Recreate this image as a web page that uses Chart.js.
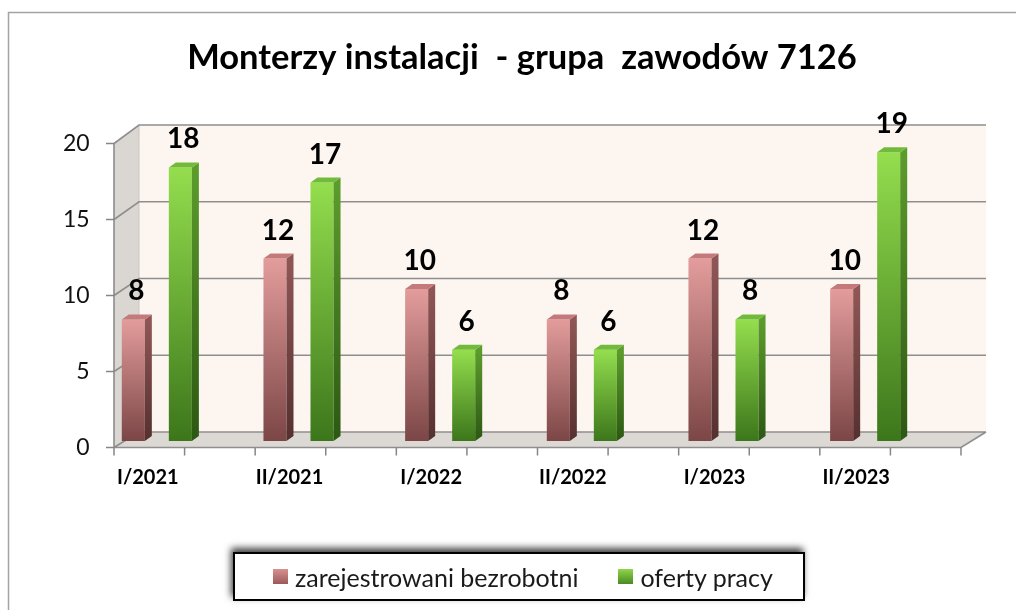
<!DOCTYPE html>
<html><head><meta charset="utf-8">
<script src="https://cdn.jsdelivr.net/npm/chart.js@4"></script>
<style>
html,body{margin:0;padding:0;background:#fff}
#wrap{position:relative;width:1016px;height:610px;overflow:hidden}
#legend{position:absolute;left:233px;top:552px;width:530px;height:45px;border:2px solid #000;background:#fff;
  box-shadow:-2px -4px 7px rgba(0,0,0,0.75);display:flex;align-items:center;justify-content:flex-start;gap:40px;
  padding-left:38px;
  font-family:Lato,'Open Sans',sans-serif;font-size:25px;color:#1a1a1a;box-sizing:content-box}
#legend .it{display:flex;align-items:center}
#legend .sw{width:15px;height:15px;margin-right:7px}
</style>
</head><body><div id="wrap"><canvas id="c" width="1016" height="610"></canvas><div id="legend"></div></div>
<script>
const chartTitle = 'Monterzy instalacji  - grupa  zawodów 7126';
const categories = ['I/2021', 'II/2021', 'I/2022', 'II/2022', 'I/2023', 'II/2023'];
const seriesNames = ['zarejestrowani bezrobotni', 'oferty pracy'];
const registered = [8, 12, 10, 8, 12, 10];
const offers = [18, 17, 6, 6, 8, 19];
const yTicks = [0, 5, 10, 15, 20];

const palette = [
  {front: ['#e39c9c', '#7c4646'], side: ['#905656', '#55302f'], top: '#c47a7a', swatch: 'linear-gradient(#d89090,#9a5a5a)'},
  {front: ['#94de4e', '#3c761b'], side: ['#5c9c2c', '#2c5812'], top: '#72bb3a', swatch: 'linear-gradient(#8fd64a,#4a8a22)'}
];

function frontGradient(c, pi) {
  const chart = c.chart;
  if (!chart.chartArea || c.dataIndex === undefined) return palette[pi].front[1];
  const v = chart.data.datasets[c.datasetIndex].data[c.dataIndex];
  const ys = chart.scales.y;
  const g = chart.ctx.createLinearGradient(0, ys.getPixelForValue(v), 0, ys.getPixelForValue(0));
  g.addColorStop(0, palette[pi].front[0]);
  g.addColorStop(1, palette[pi].front[1]);
  return g;
}

const DX = 25, FRONT_OFF = 6.5;
function frontY(ys, v) { return ys.getPixelForValue(v) + FRONT_OFF; }
function backY(ys, v) { return ys.getPixelForValue(v) - 9 - 0.15 * v; }
function poly(ctx, pts, fill) {
  ctx.beginPath();
  ctx.moveTo(pts[0][0], pts[0][1]);
  for (let i = 1; i < pts.length; i++) ctx.lineTo(pts[i][0], pts[i][1]);
  ctx.closePath();
  ctx.fillStyle = fill;
  ctx.fill();
}

const framePlugin = {
  id: 'frame3d',
  afterLayout(chart) {
    const t = chart.titleBlock;
    if (t) { const s = 522 - (t.left + t.right) / 2; t.left += s; t.right += s; }
  },
  beforeDraw(chart) {
    const ctx = chart.ctx;
    ctx.save();
    ctx.fillStyle = '#fff';
    ctx.fillRect(0, 0, chart.width, chart.height);
    ctx.strokeStyle = '#a3a3a3';
    ctx.lineWidth = 1.5;
    ctx.strokeRect(8.5, 12.5, 1200, 800);
    ctx.restore();
  },
  beforeDatasetsDraw(chart) {
    const {ctx, chartArea, scales: {y: ys}} = chart;
    const X0 = chartArea.left + 28, X1 = chartArea.right + 25;
    const top = yTicks[yTicks.length - 1], bot = yTicks[0];
    ctx.save();
    ctx.fillStyle = '#fdf6f0';
    ctx.fillRect(X0 + DX, backY(ys, top), X1 - X0, backY(ys, bot) - backY(ys, top));
    poly(ctx, [[X0, frontY(ys, top)], [X0 + DX, backY(ys, top)], [X0 + DX, backY(ys, bot)], [X0, frontY(ys, bot)]], '#dad6d2');
    poly(ctx, [[X0, frontY(ys, bot)], [X0 + DX, backY(ys, bot)], [X1 + DX, backY(ys, bot)], [X1, frontY(ys, bot)]], '#dcd8d4');
    ctx.strokeStyle = '#c9c5c1';
    ctx.lineWidth = 1;
    ctx.beginPath();
    ctx.moveTo(X0 + DX, backY(ys, top)); ctx.lineTo(X0 + DX, backY(ys, bot));
    ctx.stroke();
    ctx.strokeStyle = '#8e8e8e';
    ctx.lineWidth = 1.6;
    ctx.beginPath();
    yTicks.forEach(v => {
      ctx.moveTo(X0, frontY(ys, v));
      ctx.lineTo(X0 + DX, backY(ys, v));
      ctx.lineTo(X1 + DX, backY(ys, v));
    });
    ctx.moveTo(X0, frontY(ys, bot)); ctx.lineTo(X1, frontY(ys, bot)); ctx.lineTo(X1 + DX, backY(ys, bot));
    ctx.stroke();
    ctx.strokeStyle = '#868686';
    ctx.lineWidth = 1.5;
    ctx.beginPath();
    ctx.moveTo(X0, frontY(ys, top)); ctx.lineTo(X0, frontY(ys, bot));
    yTicks.forEach(v => { ctx.moveTo(X0 - 8, frontY(ys, v)); ctx.lineTo(X0, frontY(ys, v)); });
    const n = categories.length * 2;
    for (let k = 0; k <= n; k++) {
      const x = X0 + k * (X1 - X0) / n;
      ctx.moveTo(x, frontY(ys, bot)); ctx.lineTo(x, frontY(ys, bot) + 8);
    }
    ctx.stroke();
    ctx.restore();
  },
  afterDatasetsDraw(chart) {
    const ctx = chart.ctx;
    ctx.save();
    chart.data.datasets.forEach((ds, di) => {
      const meta = chart.getDatasetMeta(di);
      const pal = palette[di];
      meta.data.forEach((bar, i) => {
        const {x, y, base, width} = bar.getProps(['x', 'y', 'base', 'width'], true);
        const l = x - width / 2, r = x + width / 2, dx = 7, dy = -5;
        const sg = ctx.createLinearGradient(0, y, 0, base);
        sg.addColorStop(0, pal.side[0]); sg.addColorStop(1, pal.side[1]);
        poly(ctx, [[r, y], [r + dx, y + dy], [r + dx, base + dy], [r, base]], sg);
        poly(ctx, [[l, y], [l + dx, y + dy], [r + dx, y + dy], [r, y]], pal.top);
        ctx.fillStyle = '#000';
        ctx.font = 'bold 28px Lato, "Open Sans", sans-serif';
        ctx.textAlign = 'center';
        ctx.textBaseline = 'alphabetic';
        ctx.fillText(String(ds.data[i]), x + 3, y - 19);
      });
    });
    ctx.restore();
  }
};

const chart = new Chart(document.getElementById('c'), {
  type: 'bar',
  data: {
    labels: categories,
    datasets: [
      {label: seriesNames[0], data: registered, backgroundColor: c => frontGradient(c, 0), borderWidth: 0,
       categoryPercentage: 0.664, barPercentage: 0.49},
      {label: seriesNames[1], data: offers, backgroundColor: c => frontGradient(c, 1), borderWidth: 0,
       categoryPercentage: 0.664, barPercentage: 0.49}
    ]
  },
  options: {
    responsive: false,
    devicePixelRatio: 1,
    animation: false,
    layout: {padding: {left: 0, right: 80, top: 0, bottom: 109}},
    plugins: {
      legend: {display: false},
      tooltip: {enabled: false},
      title: {
        display: true, text: chartTitle, fullSize: false, color: '#000',
        font: {family: 'Lato, "Open Sans", sans-serif', size: 34.5, weight: 'bold', lineHeight: 1.2},
        padding: {top: 37.3, bottom: 58.3}
      }
    },
    scales: {
      x: {
        grid: {display: false, drawTicks: false}, border: {display: false},
        ticks: {font: {family: 'Lato, "Open Sans", sans-serif', size: 20, weight: 'bold'}, color: '#000',
                padding: 25, labelOffset: -9, maxRotation: 0, autoSkip: false},
        afterFit: s => { s.height = 60; }
      },
      y: {
        min: 0, max: 20,
        grid: {display: false, drawTicks: false}, border: {display: false},
        ticks: {stepSize: 5, font: {family: 'Lato, "Open Sans", sans-serif', size: 23}, color: '#111',
                mirror: true, crossAlign: 'far', padding: -23, labelOffset: 6.5},
        afterFit: s => { s.width = 86; }
      }
    }
  },
  plugins: [framePlugin]
});

const leg = document.getElementById('legend');
chart.data.datasets.forEach((ds, i) => {
  const it = document.createElement('div'); it.className = 'it';
  const sw = document.createElement('span'); sw.className = 'sw'; sw.style.background = palette[i].swatch;
  const tx = document.createElement('span'); tx.textContent = ds.label;
  it.appendChild(sw); it.appendChild(tx); leg.appendChild(it);
});
</script>
</body></html>
